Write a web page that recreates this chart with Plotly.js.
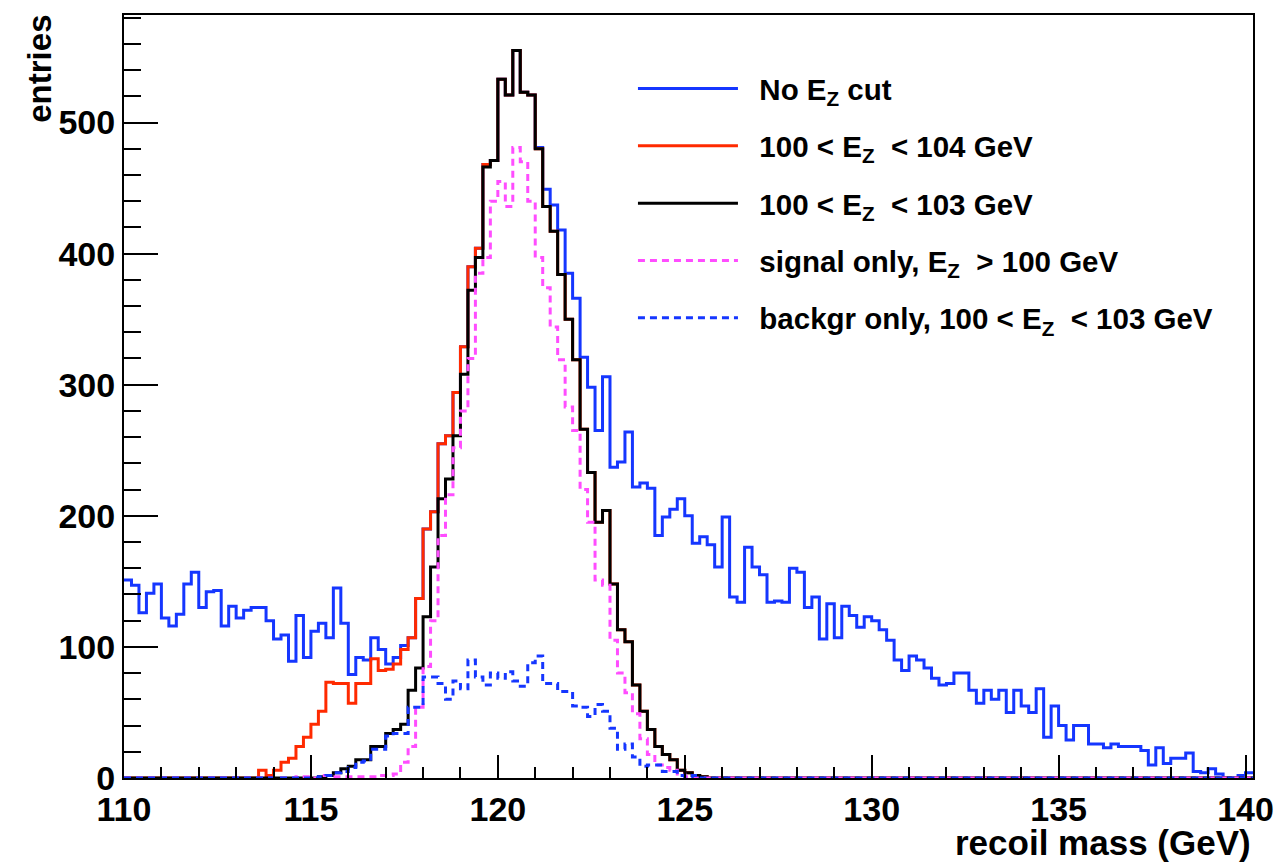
<!DOCTYPE html>
<html>
<head>
<meta charset="utf-8">
<script src="https://cdn.plot.ly/plotly-3.0.1.min.js"></script>
<style>
  html, body { margin: 0; padding: 0; background: #fff; }
  #chart { width: 1280px; height: 862px; }
</style>
</head>
<body>
<div id="chart"></div>
<script>
// Histogram binning (recoil mass, GeV)
const binStart = 110.0;
const binWidth = 0.2;

// Series: entries per bin
const noEzCut = [
  151,147,126,141,148,122,116,125,148,157,
  130,142,143,116,131,122,128,130,130,120,
  106,109,89,124,92,112,118,107,145,118,
  79,92,90,107,98,87,92,101,107,137,
  190,203,255,261,294,329,390,404,468,471,
  533,521,555,523,521,481,449,437,418,385,
  366,321,298,265,306,237,241,264,222,225,
  221,185,199,205,213,200,179,184,178,161,
  199,138,134,176,161,155,134,135,134,160,
  157,130,138,106,133,107,131,124,115,123,
  120,113,105,90,82,93,90,84,76,71,
  72,80,80,67,57,67,60,67,50,67,
  55,50,68,31,55,40,29,40,40,26,
  26,23,26,24,24,24,21,10,23,11,
  15,15,19,5,4,7,3,0,0,2,
  4
];

const ez100to104 = [
  0,0,0,0,0,0,0,0,0,0,
  0,0,0,0,0,0,0,0,6,2,
  6,12,15,24,31,41,51,73,72,72,
  57,72,72,91,82,83,87,98,107,137,
  190,203,255,261,294,329,390,404,468,471,
  533,521,555,523,521,480,436,417,384,350,
  319,266,233,195,204,148,113,104,71,51,
  37,24,18,14,6,4,2,1,0,0,
  0,0,0,0,0,0,0,0,0,0,
  0,0,0,0,0,0,0,0,0,0,
  0,0,0,0,0,0,0,0,0,0,
  0,0,0,0,0,0,0,0,0,0,
  0,0,0,0,0,0,0,0,0,0,
  0,0,0,0,0,0,0,0,0,0,
  0,0,0,0,0,0,0,0,0,0,
  0
];

const ez100to103 = [
  0,0,0,0,0,0,0,0,0,0,
  0,0,0,0,0,0,0,0,0,0,
  0,0,0,0,0,0,1,2,4,7,
  9,14,14,24,24,34,37,41,67,84,
  123,161,213,228,261,308,372,397,466,471,
  533,521,555,523,521,480,436,417,384,350,
  319,266,233,195,204,148,113,104,71,51,
  37,24,18,14,6,4,2,1,0,0,
  0,0,0,0,0,0,0,0,0,0,
  0,0,0,0,0,0,0,0,0,0,
  0,0,0,0,0,0,0,0,0,0,
  0,0,0,0,0,0,0,0,0,0,
  0,0,0,0,0,0,0,0,0,0,
  0,0,0,0,0,0,0,0,0,0,
  0,0,0,0,0,0,0,0,0,0,
  0
];

const signalOnly = [
  0,0,0,0,0,0,0,0,0,0,
  0,0,0,0,0,0,0,0,0,0,
  0,0,0,1,1,0,2,2,1,1,
  1,1,1,1,2,2,3,12,24,54,
  85,120,185,216,252,280,320,385,397,440,
  455,436,481,470,440,397,374,344,319,283,
  265,220,195,151,147,105,80,65,49,30,
  18,10,8,6,3,1,0,0,0,0,
  0,0,0,0,0,0,0,0,0,0,
  0,0,0,0,0,0,0,0,0,0,
  0,0,0,0,0,0,0,0,0,0,
  0,0,0,0,0,0,0,0,0,0,
  0,0,0,0,0,0,0,0,0,0,
  0,0,0,0,0,0,0,0,0,0,
  0,0,0,0,0,0,0,0,0,0,
  0
];

const backgrOnly = [
  0,0,0,0,0,0,0,0,0,0,
  0,0,0,0,0,0,0,0,0,0,
  0,0,0,0,0,0,1,2,4,5,
  8,12,13,22,22,32,34,34,54,54,
  77,77,72,60,74,68,90,77,71,80,
  76,81,74,70,88,93,72,72,66,66,
  55,54,47,56,51,38,22,26,16,9,
  10,10,5,5,2,1,2,0,0,0,
  0,0,0,0,0,0,0,0,0,0,
  0,0,0,0,0,0,0,0,0,0,
  0,0,0,0,0,0,0,0,0,0,
  0,0,0,0,0,0,0,0,0,0,
  0,0,0,0,0,0,0,0,0,0,
  0,0,0,0,0,0,0,0,0,0,
  0,0,0,0,0,0,0,0,0,0,
  0
];

const seriesNames = [
  'No E<sub>Z</sub> cut',
  '100 &lt; E<sub>Z</sub>  &lt; 104 GeV',
  '100 &lt; E<sub>Z</sub>  &lt; 103 GeV',
  'signal only, E<sub>Z</sub>  &gt; 100 GeV',
  'backgr only, 100 &lt; E<sub>Z</sub>  &lt; 103 GeV'
];

const xTickVals = [110, 115, 120, 125, 130, 135, 140];
const yTickVals = [0, 100, 200, 300, 400, 500];

// Build step outlines (bin edges) from the bin contents
function stepTrace(values, name, color, dash, group) {
  const xs = [], ys = [];
  for (let i = 0; i < values.length; i++) {
    xs.push(binStart + i * binWidth);
    ys.push(values[i]);
  }
  xs.push(binStart + values.length * binWidth);
  ys.push(values[values.length - 1]);
  return {
    type: 'scatter', mode: 'lines', x: xs, y: ys,
    name: '&nbsp;&nbsp;' + name,
    legendgroup: group,
    line: { shape: 'hv', color: color, width: 3, dash: dash },
    hoverinfo: 'skip'
  };
}

const data = [
  stepTrace(noEzCut,    seriesNames[0], '#1536ff', 'solid', 'g1'),
  stepTrace(ez100to104, seriesNames[1], '#ff2a00', 'solid', 'g2'),
  stepTrace(ez100to103, seriesNames[2], '#000000', 'solid', 'g3'),
  stepTrace(signalOnly, seriesNames[3], '#ff4dff', '7px,5px', 'g4'),
  stepTrace(backgrOnly, seriesNames[4], '#1536ff', '7px,5px', 'g5')
];

const fontFamily = 'Liberation Sans, Arial, sans-serif';
const tickFont = { family: fontFamily, size: 34, color: '#000', weight: 'bold' };

const layout = {
  width: 1280, height: 862,
  margin: { l: 124, r: 27, t: 15, b: 84 },
  paper_bgcolor: '#ffffff', plot_bgcolor: '#ffffff',
  showlegend: true,
  legend: {
    x: 0.4508, y: 0.9374, xanchor: 'left', yanchor: 'top',
    bgcolor: 'rgba(0,0,0,0)', borderwidth: 0,
    font: { family: fontFamily, size: 29.5, color: '#000', weight: 'bold' },
    itemwidth: 100, tracegroupgap: 16, traceorder: 'grouped'
  },
  xaxis: {
    range: [110, 140.2], showgrid: false, zeroline: false,
    showline: true, linecolor: '#000', linewidth: 2, mirror: true,
    ticks: 'inside', ticklen: 23, tickwidth: 2, tickcolor: '#000',
    tickmode: 'array', tickvals: xTickVals, ticktext: xTickVals.map(String),
    tickfont: tickFont,
    minor: { dtick: 1, ticks: 'inside', ticklen: 11, tickwidth: 2, tickcolor: '#000', showgrid: false }
  },
  yaxis: {
    range: [0, 582], showgrid: false, zeroline: false,
    showline: true, linecolor: '#000', linewidth: 2, mirror: true,
    ticks: 'inside', ticklen: 34, tickwidth: 2, tickcolor: '#000',
    tickmode: 'array', tickvals: yTickVals, ticktext: yTickVals.map(String),
    tickfont: tickFont,
    minor: { dtick: 20, ticks: 'inside', ticklen: 17, tickwidth: 2, tickcolor: '#000', showgrid: false }
  },
  annotations: [
    {
      text: 'entries', xref: 'paper', yref: 'paper',
      x: -0.075, y: 0.93, xanchor: 'center', yanchor: 'middle',
      textangle: -90, showarrow: false,
      font: { family: fontFamily, size: 33, color: '#000', weight: 'bold' }
    },
    {
      text: 'recoil mass (GeV)', xref: 'paper', yref: 'paper',
      x: 1.0, y: -0.0839, xanchor: 'right', yanchor: 'middle',
      showarrow: false,
      font: { family: fontFamily, size: 35, color: '#000', weight: 'bold' }
    }
  ]
};

Plotly.newPlot('chart', data, layout, { staticPlot: true, displayModeBar: false });
</script>
</body>
</html>
